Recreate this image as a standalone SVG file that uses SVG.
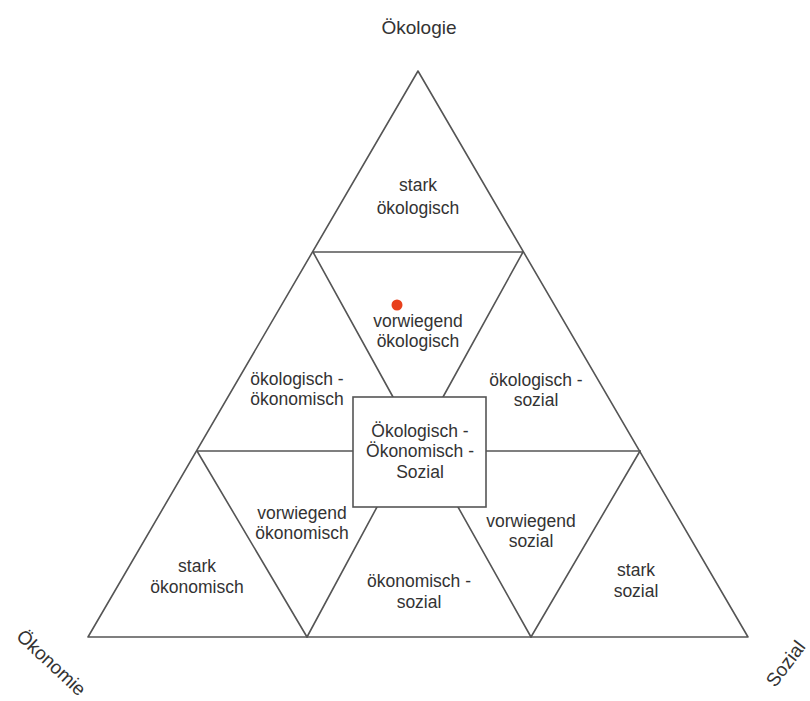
<svg xmlns="http://www.w3.org/2000/svg" width="810" height="701" viewBox="0 0 810 701">
  <style>
    .edge { fill: none; stroke: #555; stroke-width: 1.6; stroke-linecap: round; stroke-linejoin: round; }
    .box { fill: #fff; stroke: #555; stroke-width: 1.6; }
    .lbl { font-family: "Liberation Sans", Arial, sans-serif; font-size: 17.5px; fill: #333; text-anchor: middle; }
    .axis { font-family: "Liberation Sans", Arial, sans-serif; font-size: 19px; fill: #333; text-anchor: middle; }
  </style>
  <rect width="810" height="701" fill="#fff"/>

  <!-- triangle subdivisions -->
  <g id="connectors">
    <polygon class="edge" points="418,71 88,637 748,637"/>
    <line class="edge" x1="313" y1="252" x2="523" y2="252"/>
    <line class="edge" x1="313" y1="252" x2="393" y2="397"/>
    <line class="edge" x1="523" y1="252" x2="443" y2="397"/>
    <line class="edge" x1="197" y1="451" x2="353" y2="451"/>
    <line class="edge" x1="486" y1="451" x2="640" y2="451"/>
    <line class="edge" x1="197" y1="451" x2="307" y2="637"/>
    <line class="edge" x1="640" y1="451" x2="531" y2="637"/>
    <line class="edge" x1="377" y1="507" x2="307" y2="637"/>
    <line class="edge" x1="458" y1="507" x2="531" y2="637"/>
  </g>

  <!-- axis labels -->
  <g id="axis-oekologie"><text class="axis" x="419" y="34">Ökologie</text></g>
  <g id="axis-oekonomie"><text class="axis" transform="translate(51,663) rotate(43)" y="6">Ökonomie</text></g>
  <g id="axis-sozial"><text class="axis" transform="translate(786,664) rotate(-53)" y="6">Sozial</text></g>

  <!-- regions -->
  <g id="stark-oekologisch">
    <text class="lbl" x="418" y="191">stark</text>
    <text class="lbl" x="418" y="214">ökologisch</text>
  </g>
  <g id="vorwiegend-oekologisch">
    <circle cx="397" cy="305" r="5.5" fill="#e8401c"/>
    <text class="lbl" x="418" y="327">vorwiegend</text>
    <text class="lbl" x="418" y="347">ökologisch</text>
  </g>
  <g id="oekologisch-oekonomisch">
    <text class="lbl" x="297" y="385">ökologisch -</text>
    <text class="lbl" x="297" y="405">ökonomisch</text>
  </g>
  <g id="oekologisch-sozial">
    <text class="lbl" x="536" y="386">ökologisch -</text>
    <text class="lbl" x="536" y="406">sozial</text>
  </g>
  <g id="zentrum">
    <rect class="box" x="353" y="397" width="133" height="110"/>
    <text class="lbl" x="420" y="437">Ökologisch -</text>
    <text class="lbl" x="420" y="457">Ökonomisch -</text>
    <text class="lbl" x="420" y="478">Sozial</text>
  </g>
  <g id="vorwiegend-oekonomisch">
    <text class="lbl" x="302" y="519">vorwiegend</text>
    <text class="lbl" x="302" y="539">ökonomisch</text>
  </g>
  <g id="vorwiegend-sozial">
    <text class="lbl" x="531" y="527">vorwiegend</text>
    <text class="lbl" x="531" y="547">sozial</text>
  </g>
  <g id="stark-oekonomisch">
    <text class="lbl" x="197" y="572">stark</text>
    <text class="lbl" x="197" y="593">ökonomisch</text>
  </g>
  <g id="oekonomisch-sozial">
    <text class="lbl" x="419" y="587">ökonomisch -</text>
    <text class="lbl" x="419" y="608">sozial</text>
  </g>
  <g id="stark-sozial">
    <text class="lbl" x="636" y="576">stark</text>
    <text class="lbl" x="636" y="597">sozial</text>
  </g>
</svg>
